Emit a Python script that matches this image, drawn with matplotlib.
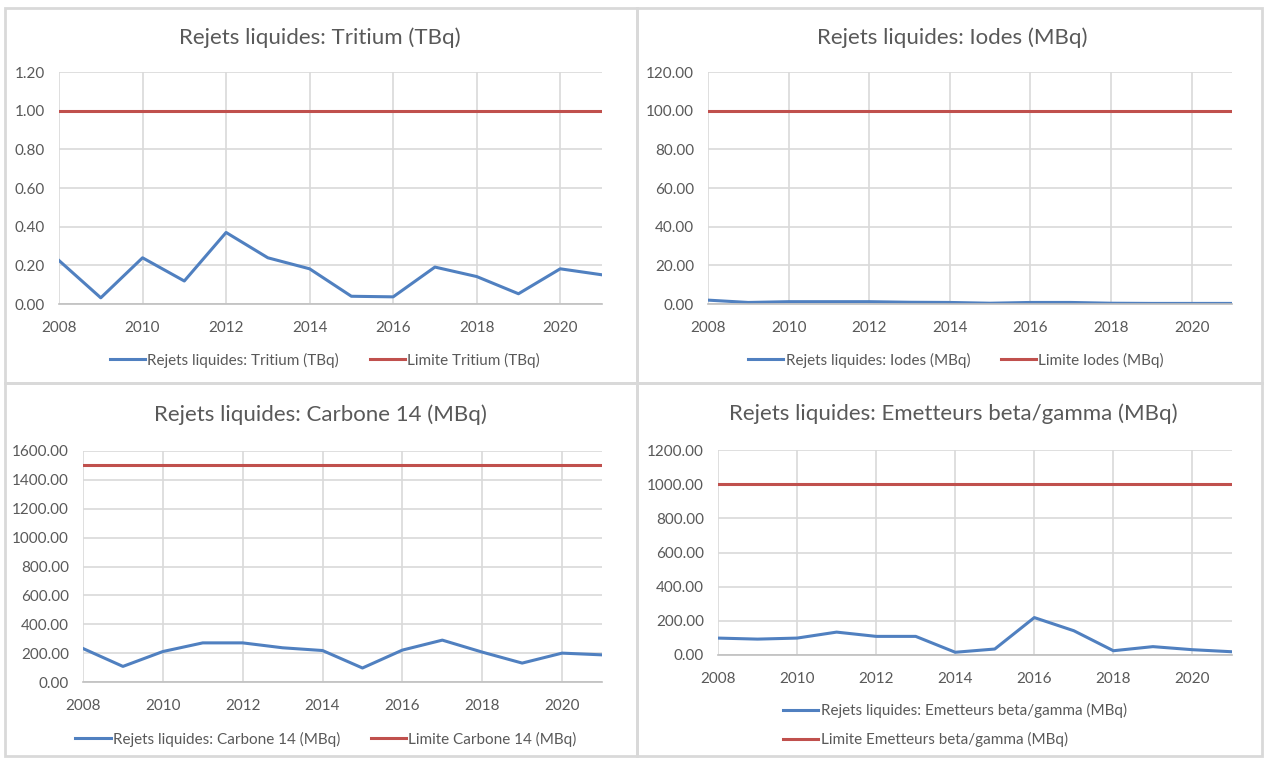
import matplotlib
matplotlib.use("Agg")
import matplotlib.pyplot as plt
from matplotlib.patches import Rectangle

plt.rcParams['font.family'] = ['Liberation Sans Narrow', 'Lato', 'DejaVu Sans']

years = list(range(2008, 2022))

tritium = [0.225, 0.032, 0.239, 0.119, 0.37, 0.239, 0.182, 0.04, 0.037, 0.191, 0.142, 0.053, 0.182, 0.151]
tritium_lim = [1.0] * 14

iodes = [2.0, 0.8, 1.2, 1.2, 1.2, 0.9, 0.8, 0.4, 0.8, 0.8, 0.4, 0.3, 0.3, 0.3]
iodes_lim = [100.0] * 14

carbone = [232, 108, 211, 271, 271, 237, 218, 97, 221, 290, 207, 131, 200, 188]
carbone_lim = [1500.0] * 14

emetteurs = [99, 93, 99, 134, 109, 109, 16, 35, 219, 142, 25, 49, 31, 19]
emetteurs_lim = [1000.0] * 14

BLUE = '#5080c0'
RED = '#c0504d'
TXT = '#595959'
GRID = '#d9d9d9'

W, H = 1264, 758
fig = plt.figure(figsize=(12.64, 7.58), dpi=100)


def px(x0, y0, x1, y1):
    # pixel box (top-left origin) -> figure fraction rect
    return [x0 / W, 1 - y1 / H, (x1 - x0) / W, (y1 - y0) / H]


# panel borders
for (x0, y0, x1, y1) in [(5, 8, 637, 383), (637, 8, 1262, 383),
                         (5, 383, 637, 756), (637, 383, 1262, 756)]:
    fig.patches.append(Rectangle((x0 / W, 1 - y1 / H), (x1 - x0) / W, (y1 - y0) / H,
                                 transform=fig.transFigure, fill=False,
                                 edgecolor=GRID, linewidth=2))

panels = [
    dict(box=(59, 72, 602, 304), vals=tritium, lim=tritium_lim, ymax=1.2, step=0.2,
         title='Rejets liquides: Tritium (TBq)', tx=320, ty=38,
         lab1='Rejets liquides: Tritium (TBq)', lab2='Limite Tritium (TBq)',
         leg=(325, 360), ncol=2),
    dict(box=(708, 72, 1232, 304), vals=iodes, lim=iodes_lim, ymax=120, step=20,
         title='Rejets liquides: Iodes (MBq)', tx=952, ty=38,
         lab1='Rejets liquides: Iodes (MBq)', lab2='Limite Iodes (MBq)',
         leg=(956, 360), ncol=2),
    dict(box=(83, 451, 602, 682), vals=carbone, lim=carbone_lim, ymax=1600, step=200,
         title='Rejets liquides: Carbone 14 (MBq)', tx=320, ty=415,
         lab1='Rejets liquides: Carbone 14 (MBq)', lab2='Limite Carbone 14 (MBq)',
         leg=(326, 739), ncol=2),
    dict(box=(718, 450, 1232, 655), vals=emetteurs, lim=emetteurs_lim, ymax=1200, step=200,
         title='Rejets liquides: Emetteurs beta/gamma (MBq)', tx=953, ty=414,
         lab1='Rejets liquides: Emetteurs beta/gamma (MBq)',
         lab2='Limite Emetteurs beta/gamma (MBq)',
         leg=(955, 725), ncol=1),
]

for p in panels:
    ax = fig.add_axes(px(*p['box']))
    ax.plot(years, p['vals'], color=BLUE, linewidth=2.2, label=p['lab1'])
    ax.plot(years, p['lim'], color=RED, linewidth=2.2, label=p['lab2'])
    ax.set_xlim(2008, 2021)
    ax.set_ylim(0, p['ymax'])
    ax.set_xticks(range(2008, 2022, 2))
    n = int(round(p['ymax'] / p['step']))
    ax.set_yticks([i * p['step'] for i in range(n + 1)])
    ax.yaxis.set_major_formatter(matplotlib.ticker.FormatStrFormatter('%.2f'))
    ax.grid(True, color=GRID, linewidth=1.2)
    ax.set_axisbelow(True)
    for s in ['top', 'right', 'left']:
        ax.spines[s].set_visible(False)
    ax.spines['bottom'].set_color('#bfbfbf')
    ax.spines['bottom'].set_linewidth(1.2)
    ax.tick_params(length=0, labelsize=11, labelcolor=TXT)
    ax.tick_params(axis='y', pad=10)
    ax.tick_params(axis='x', pad=12)
    fig.text(p['tx'] / W, 1 - p['ty'] / H, p['title'], ha='center', va='center',
             fontsize=16, color=TXT)
    fig.legend(handles=ax.get_lines(), loc='center', ncol=p['ncol'],
               bbox_to_anchor=(p['leg'][0] / W, 1 - p['leg'][1] / H), frameon=False,
               fontsize=11, labelcolor=TXT, handlelength=2.3, handletextpad=0.15,
               columnspacing=2.0, labelspacing=0.9)

fig.savefig('out.png', dpi=100, facecolor='white')
